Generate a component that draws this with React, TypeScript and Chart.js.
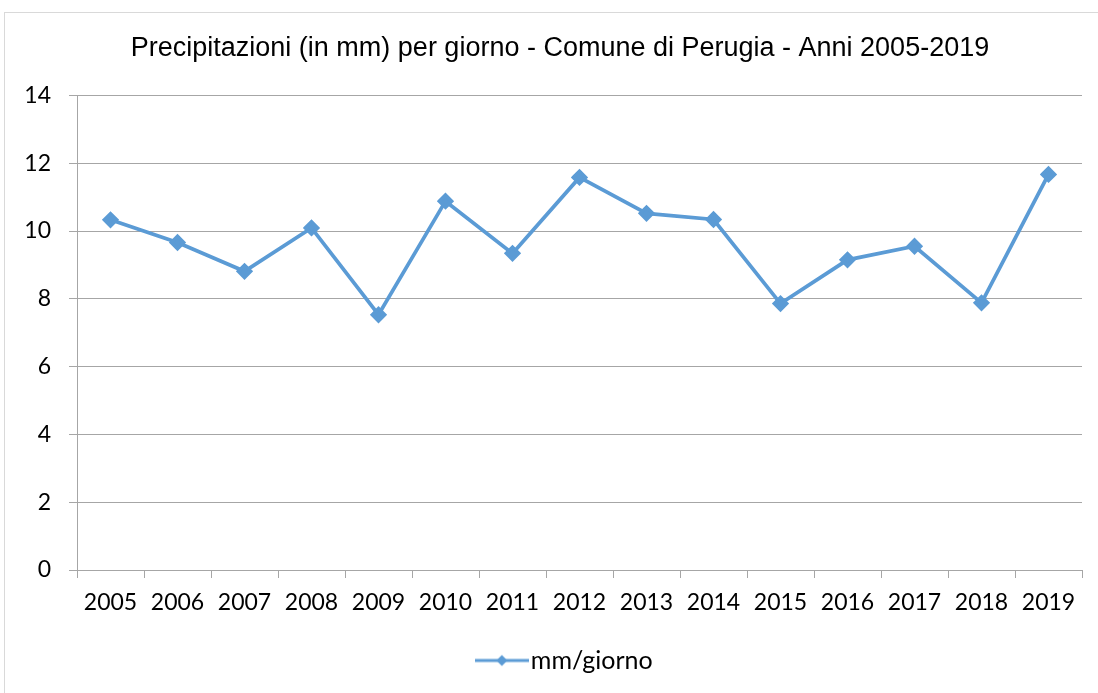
import React, { useEffect, useRef } from "react";
import { Chart, registerables } from "chart.js";

Chart.register(...registerables);

const years = ["2005", "2006", "2007", "2008", "2009", "2010", "2011", "2012", "2013", "2014", "2015", "2016", "2017", "2018", "2019"];
const mmPerDay = [10.33, 9.66, 8.81, 10.09, 7.53, 10.88, 9.34, 11.58, 10.52, 10.34, 7.86, 9.15, 9.55, 7.88, 11.67];
const seriesLabel = "mm/giorno";
const chartTitle = "Precipitazioni (in mm) per giorno - Comune di Perugia - Anni 2005-2019";
const yMin = 0;
const yMax = 14;
const yStep = 2;

const BLUE = "#5B9BD5";
const GRID = "#A6A6A6";

function makeLegendImage(): HTMLCanvasElement {
  const c = document.createElement("canvas");
  c.width = 54;
  c.height = 14;
  const ctx = c.getContext("2d")!;
  ctx.strokeStyle = BLUE;
  ctx.lineWidth = 3;
  ctx.beginPath();
  ctx.moveTo(0, 7);
  ctx.lineTo(54, 7);
  ctx.stroke();
  ctx.fillStyle = BLUE;
  ctx.beginPath();
  ctx.moveTo(27, 1.5);
  ctx.lineTo(32.5, 7);
  ctx.lineTo(27, 12.5);
  ctx.lineTo(21.5, 7);
  ctx.closePath();
  ctx.fill();
  return c;
}

// Shift centred title / legend horizontally (reference centres them slightly right of canvas centre)
const shiftBlocks = {
  id: "shiftBlocks",
  afterLayout(chart: any) {
    const t = chart.titleBlock;
    if (t) t.left += 38;
  },
  beforeDraw(chart: any) {
    const l = chart.legend;
    if (l && !l.__shifted) {
      l.left += 56;
      l.__shifted = true;
    }
  },
};

export default function App() {
  const ref = useRef<HTMLCanvasElement | null>(null);

  useEffect(() => {
    if (!ref.current) return;
    const legendImg = makeLegendImage();
    const chart = new Chart(ref.current, {
      type: "line",
      data: {
        labels: years,
        datasets: [
          {
            label: seriesLabel,
            data: mmPerDay,
            borderColor: BLUE,
            backgroundColor: BLUE,
            borderWidth: 3.75,
            pointStyle: "rectRot",
            pointRadius: 6,
            pointBackgroundColor: BLUE,
            pointBorderColor: BLUE,
            tension: 0,
          },
        ],
      },
      options: {
        responsive: false,
        animation: false,
        layout: { padding: { left: 0, top: 12, right: 16, bottom: 10 } },
        plugins: {
          title: {
            display: true,
            text: chartTitle,
            color: "#000",
            font: { family: "'Liberation Sans', Arial, sans-serif", size: 27, weight: "normal" },
            padding: { top: 20, bottom: 31 },
          },
          legend: {
            display: true,
            position: "bottom",
            labels: {
              usePointStyle: true,
              pointStyleWidth: 33,
              color: "#000",
              padding: 10,
              font: { family: "Lato, sans-serif", size: 25 },
              generateLabels: (ch: any) => {
                const items = (Chart.defaults.plugins.legend.labels as any).generateLabels(ch);
                items.forEach((it: any) => {
                  it.pointStyle = legendImg;
                });
                return items;
              },
            },
          },
          tooltip: { enabled: false },
        },
        scales: {
          x: {
            offset: true,
            grid: {
              offset: true,
              drawOnChartArea: false,
              drawTicks: true,
              tickLength: 8,
              color: GRID,
            },
            border: { color: GRID, width: 1 },
            ticks: {
              color: "#000",
              padding: 11,
              font: { family: "Lato, sans-serif", size: 23 },
              maxRotation: 0,
              autoSkip: false,
            },
            afterFit: (scale: any) => {
              scale.height = 68;
            },
          },
          y: {
            min: yMin,
            max: yMax,
            ticks: {
              stepSize: yStep,
              color: "#000",
              padding: 18,
              font: { family: "Lato, sans-serif", size: 23 },
            },
            grid: {
              color: GRID,
              tickLength: 8,
              lineWidth: 1,
            },
            border: { color: GRID, width: 1 },
            afterFit: (scale: any) => {
              scale.width = 77;
            },
          },
        },
      },
      plugins: [shiftBlocks],
    });
    return () => chart.destroy();
  }, []);

  return (
    <div style={{ position: "fixed", left: 0, top: 0, width: 1098, height: 693, background: "#fff" }}>
      <div
        style={{
          position: "absolute",
          left: 4,
          top: 12,
          width: 1200,
          height: 800,
          borderLeft: "1px solid #D9D9D9",
          borderTop: "1px solid #D9D9D9",
          pointerEvents: "none",
        }}
      />
      <canvas ref={ref} width={1098} height={693} style={{ position: "absolute", left: 0, top: 0 }} />
    </div>
  );
}
